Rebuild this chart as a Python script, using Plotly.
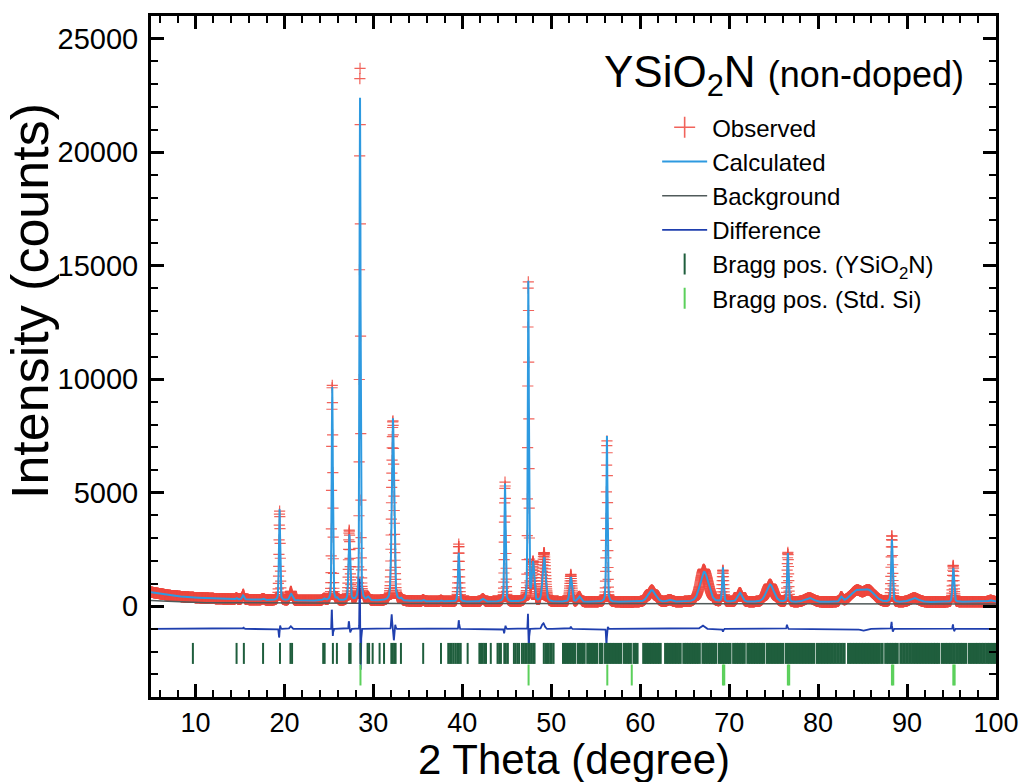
import numpy as np
import plotly.graph_objects as go

# ---------------- data ----------------
# step grid of the measurement (2theta, degrees)
two_theta = np.arange(5.0, 100.0001, 0.02)

# continuum under the pattern (knots)
cont_x = [5, 7, 9, 12, 15, 18, 22, 30, 40, 50, 60, 70, 80, 90, 100]
cont_y = [620, 480, 400, 340, 300, 270, 250, 230, 200, 190, 180, 180, 170, 170, 200]

# refined background line
bg_x = [5, 10, 20, 40, 60, 80, 100]
bg_y = [250, 160, 130, 120, 110, 100, 100]

# reflections: position, net height (counts), FWHM (deg)
peak_pos = [14.60, 15.35, 17.60, 19.45, 20.75, 24.45, 25.38, 25.90, 27.30, 28.50,
            29.40, 32.20, 33.10, 35.60, 37.60, 39.60, 42.30, 44.80, 47.42, 47.95,
            49.20, 52.20, 53.15, 56.25, 61.30, 63.30, 67.20, 69.30, 71.20, 74.60,
            76.60, 79.00, 82.60, 84.30, 85.70, 88.30, 90.80, 95.20, 99.40]
peak_height = [60, 180, 60, 4050, 280, 80, 9400, 100, 2900, 22150,
               150, 8050, 100, 60, 50, 2150, 120, 5200, 14100, 1700,
               1950, 1100, 230, 7400, 520, 90, 1330, 1500, 400, 780,
               2150, 180, 200, 460, 480, 2750, 180, 1500, 60]
peak_fwhm = [0.20, 0.25, 0.30, 0.16, 0.35, 0.30, 0.15, 0.20, 0.22, 0.14,
             0.30, 0.30, 0.25, 0.25, 0.25, 0.20, 0.40, 0.17, 0.15, 0.30,
             0.40, 0.30, 0.40, 0.16, 1.00, 0.60, 1.10, 0.20, 0.60, 1.00,
             0.18, 1.20, 0.35, 1.60, 1.60, 0.20, 1.20, 0.22, 0.50]

# misfit features of the refinement (obs - calc): position, amplitude, width
res_pos = [15.40, 19.40, 19.52, 20.70, 25.33, 25.43, 27.25, 27.40, 28.47, 28.58,
           32.05, 32.30, 32.45, 39.60, 44.70, 44.85, 47.38, 47.47, 49.10, 52.20,
           56.20, 56.35, 67.00, 69.30, 76.50, 85.00, 88.25, 88.40, 95.15, 95.30]
res_amp = [60, -380, 150, 120, 900, -320, 350, -150, 2350, -1800,
           650, -500, 200, 380, -200, 150, 700, -950, 250, 100,
           -700, 100, 150, -120, 180, -80, 320, -120, 200, -100]
res_wid = [0.05, 0.04, 0.04, 0.10, 0.03, 0.04, 0.04, 0.05, 0.03, 0.035,
           0.05, 0.06, 0.05, 0.04, 0.04, 0.04, 0.03, 0.035, 0.15, 0.05,
           0.04, 0.04, 0.20, 0.05, 0.05, 0.30, 0.04, 0.04, 0.04, 0.04]
diff_offset = -1000

# Bragg positions
bragg_main_sparse = [9.71, 14.62, 15.44, 17.60, 19.50, 20.68, 20.86, 24.36, 24.52, 25.45,
                     25.90, 27.28, 27.44, 28.55, 29.35, 29.52, 29.92, 30.70, 31.20, 32.02,
                     32.18, 32.34, 32.50, 33.10, 35.60, 37.60, 38.42, 38.62, 38.82, 39.02,
                     39.22, 39.42, 39.62, 39.82, 40.60, 41.92, 42.10, 42.28, 42.46, 42.66,
                     43.20, 43.96, 44.14, 44.34, 44.72, 44.90, 45.12, 45.80, 45.98, 46.18,
                     46.38, 46.70, 46.88, 47.06, 47.24, 47.42, 47.60, 47.78, 47.96, 48.12,
                     49.16, 49.34, 49.52, 49.70, 49.88, 50.06, 50.26]
bragg_main_dense = [51.40, 51.72, 52.04, 52.34, 52.62, 53.08, 53.38, 53.67, 54.13, 54.44,
                    54.76, 55.07, 55.53, 55.67, 56.13, 56.46, 56.79, 57.12, 57.45, 57.77,
                    58.23, 58.55, 58.87, 59.33, 59.62, 60.42, 60.72, 61.02, 61.32, 61.62,
                    61.92, 62.22, 62.88, 63.20, 63.52, 63.84, 64.16, 64.47, 64.93, 65.21,
                    65.49, 65.77, 66.05, 66.33, 66.62, 67.08, 67.36, 67.64, 67.92, 68.20,
                    68.47, 68.93, 69.21, 69.50, 69.79, 70.07, 70.53, 70.82, 71.10, 71.39,
                    71.67, 72.13, 72.42, 72.71, 73.00, 73.29, 73.58, 73.87, 74.33, 74.66,
                    74.99, 75.32, 75.65, 75.97, 76.43, 76.77, 77.11, 77.45, 77.79, 78.13,
                    78.46, 78.80, 79.13, 79.47, 79.93, 80.26, 80.59, 80.92, 81.25, 81.58,
                    81.91, 82.24, 82.57, 82.90, 83.45, 83.78, 84.12, 84.45, 84.79, 85.12,
                    85.46, 85.79, 86.13, 86.46, 86.80, 87.17, 87.63, 87.94, 88.25, 88.56,
                    88.87, 89.33, 89.66, 89.99, 90.32, 90.65, 90.98, 91.31, 91.63, 91.96,
                    92.29, 92.62, 92.95, 93.24, 93.52, 93.98, 94.31, 94.63, 94.96, 95.28,
                    95.61, 95.93, 96.25, 96.57, 97.03, 97.35, 97.68, 98.00, 98.33, 98.65,
                    98.98, 99.30, 99.63, 99.95]
bragg_si = [28.55, 47.45, 56.30, 59.05, 69.30, 69.45, 76.60, 76.75, 88.30, 88.45, 95.20, 95.35]
bragg_main_level = -2080
bragg_si_level = -3030

x_tick_vals = [10, 20, 30, 40, 50, 60, 70, 80, 90, 100]
x_tick_text = ["10", "20", "30", "40", "50", "60", "70", "80", "90", "100"]
y_tick_vals = [0, 5000, 10000, 15000, 20000, 25000]
y_tick_text = ["0", "5000", "10000", "15000", "20000", "25000"]

# ---------------- build the profiles ----------------
tt = two_theta
continuum = np.interp(tt, cont_x, cont_y)
calc = continuum.copy()
eta = 0.3
for p, h, f in zip(peak_pos, peak_height, peak_fwhm):
    d = (tt - p) / f
    calc += h * (eta / (1 + 4 * d ** 2) + (1 - eta) * np.exp(-4 * np.log(2) * d ** 2))
resid = np.zeros_like(tt)
for p, a, w in zip(res_pos, res_amp, res_wid):
    resid += a * np.exp(-0.5 * ((tt - p) / w) ** 2)
obs = calc + resid
diff = resid + diff_offset
bg_line = np.interp(tt, bg_x, bg_y)

FONT = "Liberation Sans, Arial, sans-serif"
RED = "rgba(238,72,62,0.85)"
BLUE_CALC = "#2e9ae0"
GREY_BG = "#505a5a"
BLUE_DIFF = "#1f3fae"
GREEN_DARK = "#1f5e3d"
GREEN_LIGHT = "#5bd05b"

fig = go.Figure()
# legend-only entry for observed (bigger symbol in legend)
fig.add_trace(go.Scatter(x=[None], y=[None], mode="markers", name="Observed",
                         marker=dict(symbol="cross-thin", size=15,
                                     line=dict(color=RED, width=1.6)),
                         legendgroup="obs", legendrank=1))
fig.add_trace(go.Scatter(x=tt, y=obs, mode="markers", name="Observed", showlegend=False,
                         legendgroup="obs",
                         marker=dict(symbol="cross-thin", size=8,
                                     line=dict(color=RED, width=1.2))))
fig.add_trace(go.Scatter(x=tt, y=calc, mode="lines", name="Calculated", legendrank=2,
                         line=dict(color=BLUE_CALC, width=2)))
fig.add_trace(go.Scatter(x=tt, y=bg_line, mode="lines", name="Background", legendrank=3,
                         line=dict(color=GREY_BG, width=1.5)))
fig.add_trace(go.Scatter(x=tt, y=diff, mode="lines", name="Difference", legendrank=4,
                         line=dict(color=BLUE_DIFF, width=1.8)))
fig.add_trace(go.Scatter(x=bragg_main_sparse, y=[bragg_main_level] * len(bragg_main_sparse),
                         mode="markers", name="Bragg pos. (YSiO<sub>2</sub>N)", legendrank=5,
                         legendgroup="bm",
                         marker=dict(symbol="line-ns", size=15,
                                     line=dict(color=GREEN_DARK, width=2))))
fig.add_trace(go.Scatter(x=bragg_main_dense, y=[bragg_main_level] * len(bragg_main_dense),
                         mode="markers", showlegend=False, legendgroup="bm",
                         marker=dict(symbol="line-ns", size=15,
                                     line=dict(color=GREEN_DARK, width=3.5))))
fig.add_trace(go.Scatter(x=bragg_si, y=[bragg_si_level] * len(bragg_si),
                         mode="markers", name="Bragg pos. (Std. Si)", legendrank=6,
                         marker=dict(symbol="line-ns", size=15,
                                     line=dict(color=GREEN_LIGHT, width=2))))

axis_common = dict(ticks="inside", tickcolor="black", tickwidth=2.5, ticklen=13,
                   showline=True, linecolor="black", linewidth=3, mirror="ticks",
                   showgrid=False, zeroline=False, automargin=False)

fig.update_layout(
    width=1023, height=782,
    margin=dict(l=151, r=27, t=16, b=85),
    paper_bgcolor="white", plot_bgcolor="white",
    font=dict(family=FONT, color="black"),
    xaxis=dict(range=[5, 100], tickmode="array", tickvals=x_tick_vals, ticktext=x_tick_text,
               minor=dict(dtick=2, tick0=0, ticks="inside", ticklen=7, tickwidth=2,
                          tickcolor="black"),
               ticklabelstandoff=0,
               tickfont=dict(family=FONT, size=27, color="black"),
               **axis_common),
    yaxis=dict(range=[-4000, 26000], tickmode="array", tickvals=y_tick_vals, ticktext=y_tick_text,
               minor=dict(dtick=1000, tick0=0, ticks="inside", ticklen=7, tickwidth=2,
                          tickcolor="black"),
               ticklabelstandoff=4,
               tickfont=dict(family=FONT, size=29, color="black"),
               **axis_common),
    legend=dict(x=0.599, y=0.869, xanchor="left", yanchor="top", tracegroupgap=0,
                bgcolor="rgba(0,0,0,0)", font=dict(family=FONT, size=24, color="black"),
                itemwidth=45),
    showlegend=True,
)
# axis titles
fig.add_annotation(xref="paper", yref="paper", x=-0.1432, y=0.5815, xanchor="center",
                   yanchor="middle", textangle=-90, showarrow=False,
                   text="Intensity (counts)", font=dict(family=FONT, size=52, color="black"))
fig.add_annotation(xref="paper", yref="paper", x=0.5, y=-0.092, xanchor="center",
                   yanchor="middle", showarrow=False,
                   text="2 Theta (degree)", font=dict(family=FONT, size=42, color="black"))
# sample label
fig.add_annotation(xref="paper", yref="paper", x=0.965, y=0.913, xanchor="right", yanchor="middle",
                   showarrow=False,
                   text="YSiO<sub>2</sub>N <span style='font-size:36px'>(non-doped)</span>",
                   font=dict(family=FONT, size=44, color="black"))

fig.write_html("out.html", config={"displayModeBar": False},
               post_script="document.body.style.margin='0';")
